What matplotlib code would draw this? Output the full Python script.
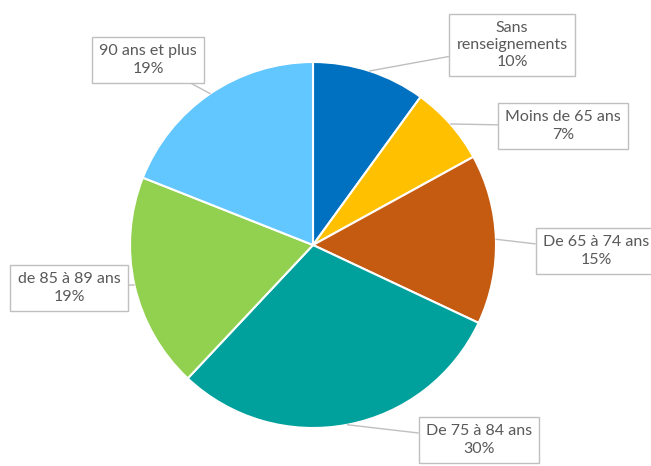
import numpy as np
import matplotlib
matplotlib.use('Agg')
import matplotlib.pyplot as plt

# age groups, clockwise from the top
labels = ['Sans\nrenseignements', 'Moins de 65 ans', 'De 65 à 74 ans',
          'De 75 à 84 ans', 'de 85 à 89 ans', '90 ans et plus']
shares = [10, 7, 15, 30, 19, 19]
colors = ['#0070C0', '#FFC000', '#C55A11', '#00A09C', '#92D050', '#62C6FF']

# label box centres (pixel coords, y from bottom)
box_pos = [(512, 421), (563, 340), (596, 215), (479, 26), (69, 178), (148, 406)]

plt.rcParams['font.family'] = ['Lato', 'DejaVu Sans']

fig = plt.figure(figsize=(6.51, 4.66), dpi=100)
ax = fig.add_axes([0, 0, 1, 1])
ax.axis('off')

cx, cy, r = 313, 221, 183
wedges, _ = ax.pie(shares, colors=colors, startangle=90, counterclock=False,
                   center=(cx, cy), radius=r,
                   wedgeprops=dict(edgecolor='white', linewidth=1.5))
ax.set_xlim(0, 651)
ax.set_ylim(0, 466)
ax.set_aspect('equal')

for w, lab, val, pos in zip(wedges, labels, shares, box_pos):
    ang = np.deg2rad((w.theta1 + w.theta2) / 2)
    px = cx + r * np.cos(ang)
    py = cy + r * np.sin(ang)
    ax.annotate('%s\n%d%%' % (lab, val), xy=(px, py), xytext=pos,
                ha='center', va='center', fontsize=11.5, color='#595959',
                linespacing=1.3,
                bbox=dict(boxstyle='square,pad=0.45', fc='white', ec='#BFBFBF', lw=1),
                arrowprops=dict(arrowstyle='-', color='#BFBFBF', lw=1,
                                shrinkA=0, shrinkB=0))

plt.savefig('out.png', dpi=100)
